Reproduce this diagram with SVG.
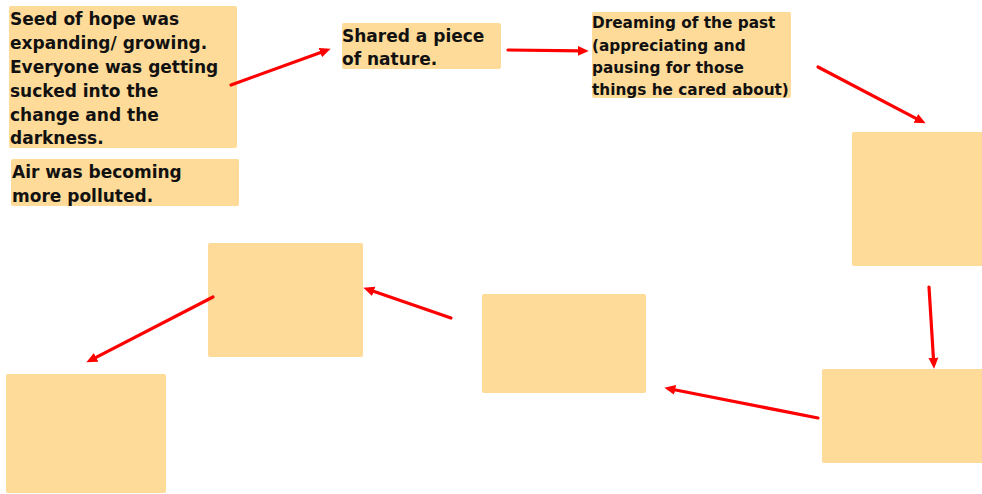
<svg xmlns="http://www.w3.org/2000/svg" width="982" height="494" viewBox="0 0 982 494">
<style>
.box{fill:#FEDB98;}
.t{font-family:"DejaVu Sans","Liberation Sans",sans-serif;font-weight:bold;fill:#111111;font-size:17px;}
.s{font-size:15.3px;}
.c{stroke:#FF0000;stroke-width:3.2;fill:none;stroke-linecap:round;}
</style>
<defs>
<marker id="ah" markerUnits="userSpaceOnUse" markerWidth="11" markerHeight="11" viewBox="0 0 10 10" refX="3" refY="5" orient="auto">
<path d="M0,0.5 L10,5 L0,9.5 z" fill="#FF0000"/>
</marker>
</defs>
<rect width="982" height="494" fill="#FFFFFF"/>
<g id="n1">
<rect class="box" x="9" y="6" width="228" height="142" rx="2"/>
<text class="t" x="10" y="25">Seed of hope was</text>
<text class="t" x="10" y="49">expanding/ growing.</text>
<text class="t" x="10" y="73">Everyone was getting</text>
<text class="t" x="10" y="97">sucked into the</text>
<text class="t" x="10" y="121">change and the</text>
<text class="t" x="10" y="144">darkness.</text>
</g>
<g id="n2">
<rect class="box" x="11" y="159" width="228" height="47" rx="2"/>
<text class="t" x="12" y="178">Air was becoming</text>
<text class="t" x="12" y="202">more polluted.</text>
</g>
<g id="n3">
<rect class="box" x="342" y="23" width="159" height="46" rx="2"/>
<text class="t" x="342" y="42">Shared a piece</text>
<text class="t" x="342" y="65">of nature.</text>
</g>
<g id="n4">
<rect class="box" x="592" y="12" width="199" height="86" rx="2"/>
<text class="t s" x="592" y="28">Dreaming of the past</text>
<text class="t s" x="592" y="51">(appreciating and</text>
<text class="t s" x="592" y="73">pausing for those</text>
<text class="t s" x="592" y="95">things he cared about)</text>
</g>
<g id="n5"><rect class="box" x="852" y="132" width="134" height="134" rx="2"/></g>
<g id="n6"><rect class="box" x="822" y="369" width="164" height="94" rx="2"/></g>
<g id="n7"><rect class="box" x="482" y="294" width="164" height="99" rx="2"/></g>
<g id="n8"><rect class="box" x="208" y="243" width="155" height="114" rx="2"/></g>
<g id="n9"><rect class="box" x="6" y="374" width="160" height="119" rx="2"/></g>
<g id="connectors">
<line class="c" x1="231" y1="85" x2="323.4" y2="51.4" marker-end="url(#ah)"/>
<line class="c" x1="508" y1="50" x2="581" y2="50.9" marker-end="url(#ah)"/>
<line class="c" x1="818" y1="67" x2="918.8" y2="119.8" marker-end="url(#ah)"/>
<line class="c" x1="929" y1="287" x2="933.6" y2="361" marker-end="url(#ah)"/>
<line class="c" x1="818" y1="418" x2="671.9" y2="389.3" marker-end="url(#ah)"/>
<line class="c" x1="451" y1="318" x2="370.6" y2="290.3" marker-end="url(#ah)"/>
<line class="c" x1="213" y1="297" x2="93.2" y2="358.8" marker-end="url(#ah)"/>
</g>
</svg>
